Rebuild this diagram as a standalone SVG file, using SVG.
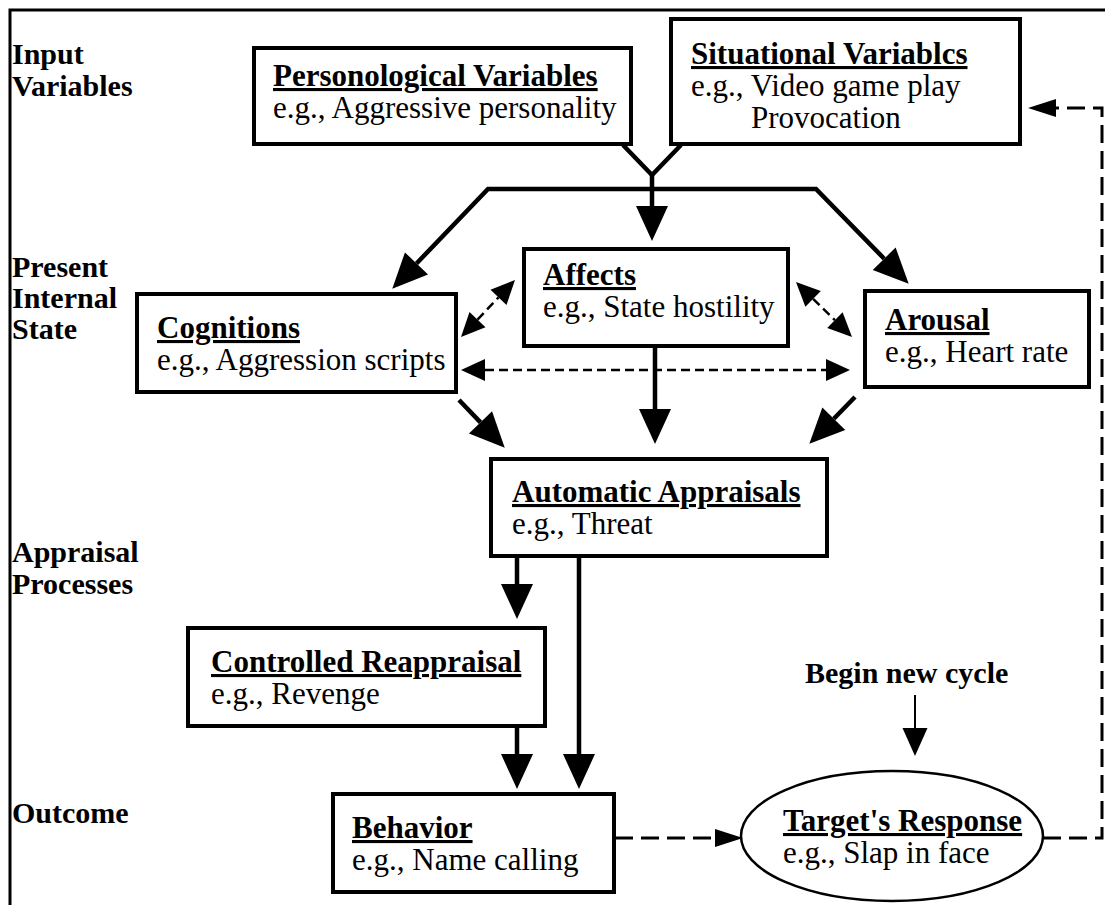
<svg xmlns="http://www.w3.org/2000/svg" width="1105" height="905" viewBox="0 0 1105 905">
<style>
.box{fill:#fff;stroke:#000;stroke-width:4}
.ell{fill:#fff;stroke:#000;stroke-width:2.5}
.hd{font-family:"Liberation Serif","Times New Roman",serif;font-weight:bold;font-size:31px;text-decoration:underline;fill:#000}
.tx{font-family:"Liberation Serif","Times New Roman",serif;font-size:31px;fill:#000}
.lb{font-family:"Liberation Serif","Times New Roman",serif;font-weight:bold;font-size:30px;fill:#000}
.solid{fill:none;stroke:#000;stroke-width:4.5}
.dash{fill:none;stroke:#000;stroke-width:2.5;stroke-dasharray:9 5}
.ldash{fill:none;stroke:#000;stroke-width:3;stroke-dasharray:18 8}
.thin{fill:none;stroke:#000;stroke-width:2}
</style>
<defs>
<marker id="big" markerUnits="userSpaceOnUse" markerWidth="36" markerHeight="32" refX="0" refY="16" orient="auto-start-reverse" overflow="visible"><path d="M0,0 L35,16 L0,32 Z" fill="#000"/></marker>
<marker id="mid" markerUnits="userSpaceOnUse" markerWidth="25" markerHeight="22" refX="0" refY="11" orient="auto-start-reverse" overflow="visible"><path d="M0,0 L24,11 L0,22 Z" fill="#000"/></marker>
<marker id="sm" markerUnits="userSpaceOnUse" markerWidth="28" markerHeight="18" refX="0" refY="9" orient="auto-start-reverse" overflow="visible"><path d="M0,0 L28,9 L0,18 Z" fill="#000"/></marker>
<marker id="cyc" markerUnits="userSpaceOnUse" markerWidth="28" markerHeight="25" refX="0" refY="12.5" orient="auto" overflow="visible"><path d="M0,0 L28,12.5 L0,25 Z" fill="#000"/></marker>
</defs>
<rect width="1105" height="905" fill="#fff"/>
<g id="frame">
<path d="M10,905 L10,10 L1105,10" fill="none" stroke="#000" stroke-width="3"/>
</g>
<g id="labels">
<text class="lb" x="12" y="64">Input</text>
<text class="lb" x="12" y="96">Variables</text>
<text class="lb" x="12" y="277">Present</text>
<text class="lb" x="12" y="308">Internal</text>
<text class="lb" x="12" y="339">State</text>
<text class="lb" x="12" y="562">Appraisal</text>
<text class="lb" x="12" y="594">Processes</text>
<text class="lb" x="12" y="823">Outcome</text>
</g>
<g id="connectors">
<path class="solid" d="M623,145 L652,175 L681,145"/>
<path class="solid" d="M652,175 L652,206" marker-end="url(#big)"/>
<path class="solid" d="M416.5,263.5 L488,189 L816,189 L884.2,258.7" marker-start="url(#big)" marker-end="url(#big)"/>
<path class="solid" d="M655,347 L655,409" marker-end="url(#big)"/>
<path class="solid" d="M459,400 L480.5,422.4" marker-end="url(#big)"/>
<path class="solid" d="M855,397 L833.8,418.7" marker-end="url(#big)"/>
<path class="solid" d="M517,557 L517,584" marker-end="url(#big)"/>
<path class="solid" d="M579,557 L579,754" marker-end="url(#big)"/>
<path class="solid" d="M517,727 L517,754" marker-end="url(#big)"/>
<path class="dash" d="M477.5,319.6 L498.5,297.4" marker-start="url(#mid)" marker-end="url(#mid)"/>
<path class="dash" d="M813.1,298.8 L834.9,320.2" marker-start="url(#mid)" marker-end="url(#mid)"/>
<path class="dash" d="M485,370 L826,370" marker-start="url(#mid)" marker-end="url(#mid)"/>
<path class="ldash" d="M615,838 L715,838" marker-end="url(#sm)"/>
<path class="ldash" d="M1043,838 L1102,838 L1102,108 L1056,108" marker-end="url(#sm)"/>
<path class="thin" d="M915,695 L915,728" marker-end="url(#cyc)"/>
</g>
<g id="personological">
<rect class="box" x="254" y="48" width="377" height="96"/>
<text class="hd" x="273" y="86">Personological Variables</text>
<text class="tx" x="273" y="118">e.g., Aggressive personality</text>
</g>
<g id="situational">
<rect class="box" x="671" y="19" width="349" height="125"/>
<text class="hd" x="691" y="64">Situational Variablcs</text>
<text class="tx" x="691" y="96">e.g., Video game play</text>
<text class="tx" x="751" y="128">Provocation</text>
</g>
<g id="cognitions">
<rect class="box" x="137" y="294" width="319" height="98"/>
<text class="hd" x="157" y="338">Cognitions</text>
<text class="tx" x="157" y="370">e.g., Aggression scripts</text>
</g>
<g id="affects">
<rect class="box" x="524" y="249" width="264" height="97"/>
<text class="hd" x="543" y="285">Affects</text>
<text class="tx" x="543" y="317">e.g., State hostility</text>
</g>
<g id="arousal">
<rect class="box" x="865" y="291" width="224" height="96"/>
<text class="hd" x="885" y="330">Arousal</text>
<text class="tx" x="885" y="362">e.g., Heart rate</text>
</g>
<g id="automatic">
<rect class="box" x="491" y="459" width="336" height="97"/>
<text class="hd" x="512" y="502">Automatic Appraisals</text>
<text class="tx" x="512" y="534">e.g., Threat</text>
</g>
<g id="controlled">
<rect class="box" x="188" y="628" width="357" height="98"/>
<text class="hd" x="211" y="672">Controlled Reappraisal</text>
<text class="tx" x="211" y="704">e.g., Revenge</text>
</g>
<g id="behavior">
<rect class="box" x="333" y="794" width="281" height="98"/>
<text class="hd" x="352" y="838">Behavior</text>
<text class="tx" x="352" y="870">e.g., Name calling</text>
</g>
<g id="target">
<ellipse class="ell" cx="892" cy="836" rx="151" ry="65"/>
<text class="hd" x="783" y="831">Target's Response</text>
<text class="tx" x="783" y="863">e.g., Slap in face</text>
</g>
<g id="cycle">
<text class="lb" x="805" y="683">Begin new cycle</text>
</g>
</svg>
